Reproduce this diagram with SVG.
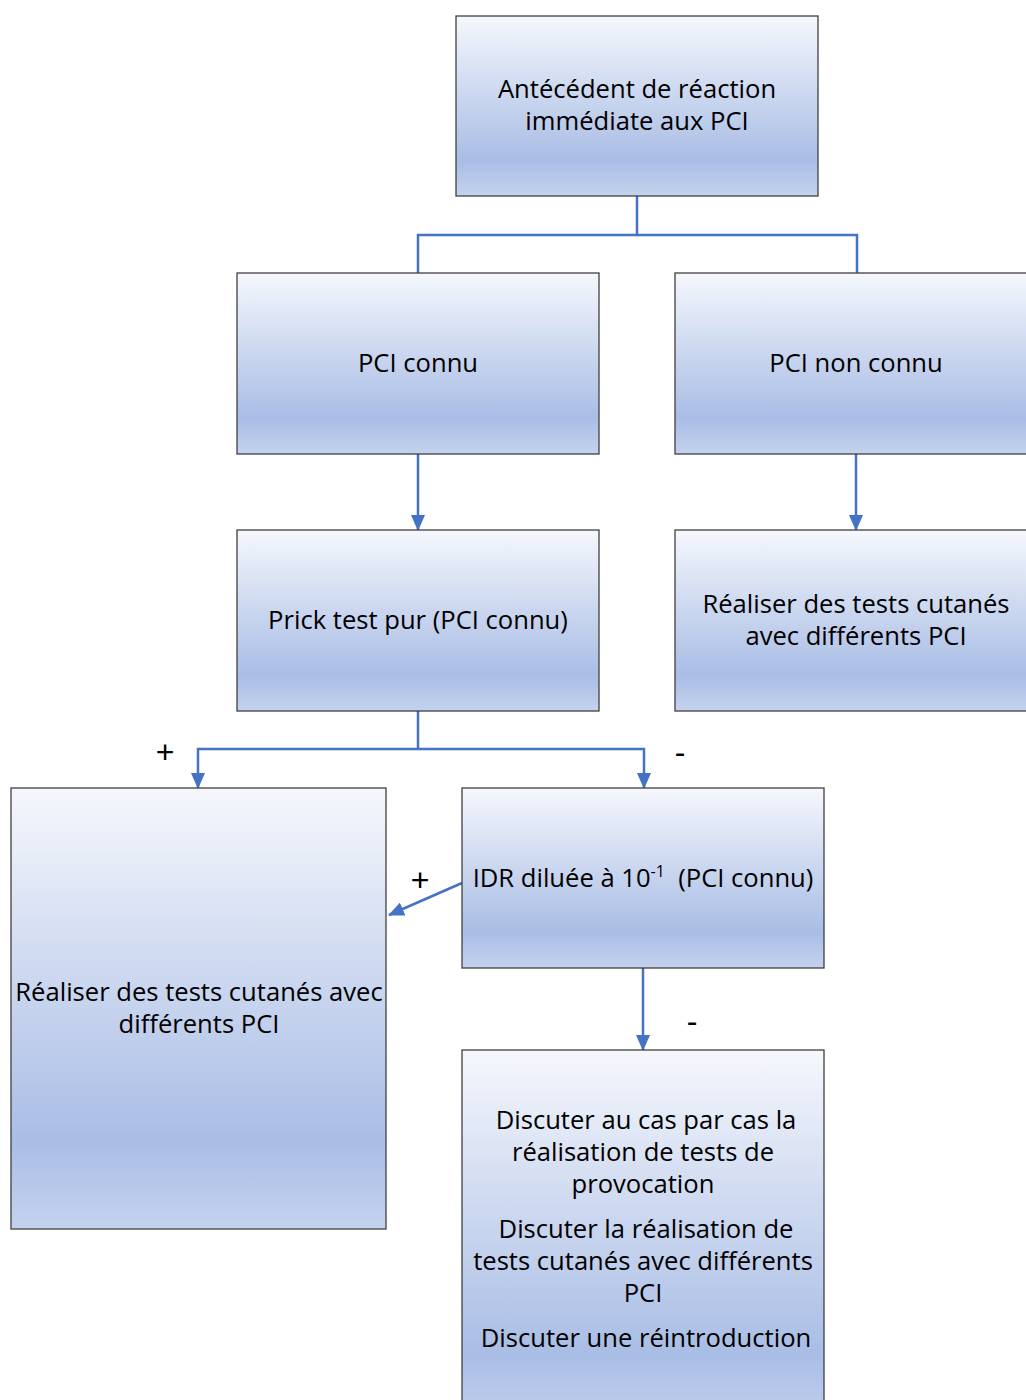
<svg xmlns="http://www.w3.org/2000/svg" width="1026" height="1400" viewBox="0 0 1026 1400">
  <defs>
    <linearGradient id="boxFill" x1="0" y1="0" x2="0" y2="1">
      <stop offset="0" stop-color="#f5f7fc"/>
      <stop offset="0.8" stop-color="#a9bde5"/>
      <stop offset="1" stop-color="#c4d2ee"/>
    </linearGradient>
    <marker id="arrowHead" viewBox="0 0 16 14" refX="15" refY="7" markerWidth="16" markerHeight="14" markerUnits="userSpaceOnUse" orient="auto">
      <path d="M0,0 L16,7 L0,14 Z" fill="#4472c4"/>
    </marker>
  </defs>
  <style>
    .box { fill: url(#boxFill); stroke: #404040; stroke-width: 1.3; }
    .lbl { font-family: "Open Sans", "Liberation Sans", sans-serif; font-size: 25.6px; fill: #000; text-anchor: middle; }
    .sign { font-family: "Liberation Sans", sans-serif; font-size: 32px; fill: #000; text-anchor: middle; }
    .conn { fill: none; stroke: #4472c4; stroke-width: 2.5; }
  </style>
  <rect width="1026" height="1400" fill="#ffffff"/>

  <g id="connectors">
    <path class="conn" d="M637,196 V235 H418 V273"/>
    <path class="conn" d="M637,235 H857 V273"/>
    <path class="conn" d="M418,454 V530" marker-end="url(#arrowHead)"/>
    <path class="conn" d="M856,454 V530" marker-end="url(#arrowHead)"/>
    <path class="conn" d="M418,711 V749 H198 V788" marker-end="url(#arrowHead)"/>
    <path class="conn" d="M418,749 H644 V788" marker-end="url(#arrowHead)"/>
    <path class="conn" d="M462,883 L389,915" marker-end="url(#arrowHead)"/>
    <path class="conn" d="M643,968 V1050" marker-end="url(#arrowHead)"/>
  </g>

  <g id="edge-labels">
    <text class="sign" x="165" y="763">+</text>
    <text class="sign" x="680" y="763">-</text>
    <text class="sign" x="420" y="891">+</text>
    <text class="sign" x="692" y="1032">-</text>
  </g>

  <g id="node-history">
    <rect class="box" x="456" y="16" width="362" height="180"/>
    <text class="lbl" x="637" y="98">Antécédent de réaction</text>
    <text class="lbl" x="637" y="130">immédiate aux PCI</text>
  </g>

  <g id="node-known">
    <rect class="box" x="237" y="273" width="362" height="181"/>
    <text class="lbl" x="418" y="372">PCI connu</text>
  </g>

  <g id="node-unknown">
    <rect class="box" x="675" y="273" width="362" height="181"/>
    <text class="lbl" x="856" y="372">PCI non connu</text>
  </g>

  <g id="node-prick">
    <rect class="box" x="237" y="530" width="362" height="181"/>
    <text class="lbl" x="418" y="629">Prick test pur (PCI connu)</text>
  </g>

  <g id="node-tests-right">
    <rect class="box" x="675" y="530" width="362" height="181"/>
    <text class="lbl" x="856" y="613">Réaliser des tests cutanés</text>
    <text class="lbl" x="856" y="645">avec différents PCI</text>
  </g>

  <g id="node-tests-left">
    <rect class="box" x="11" y="788" width="375" height="441"/>
    <text class="lbl" x="199" y="1001">Réaliser des tests cutanés avec</text>
    <text class="lbl" x="199" y="1033">différents PCI</text>
  </g>

  <g id="node-idr">
    <rect class="box" x="462" y="788" width="362" height="180"/>
    <text class="lbl" x="643" y="887" xml:space="preserve">IDR diluée à 10<tspan font-size="16" dy="-10">-1</tspan><tspan dy="10">  (PCI connu)</tspan></text>
  </g>

  <g id="node-discuss">
    <rect class="box" x="462" y="1050" width="362" height="380"/>
    <text class="lbl" x="646" y="1129">Discuter au cas par cas la</text>
    <text class="lbl" x="643" y="1161">réalisation de tests de</text>
    <text class="lbl" x="643" y="1193">provocation</text>
    <text class="lbl" x="646" y="1238">Discuter la réalisation de</text>
    <text class="lbl" x="643" y="1270">tests cutanés avec différents</text>
    <text class="lbl" x="643" y="1302">PCI</text>
    <text class="lbl" x="646" y="1347">Discuter une réintroduction</text>
  </g>
</svg>
